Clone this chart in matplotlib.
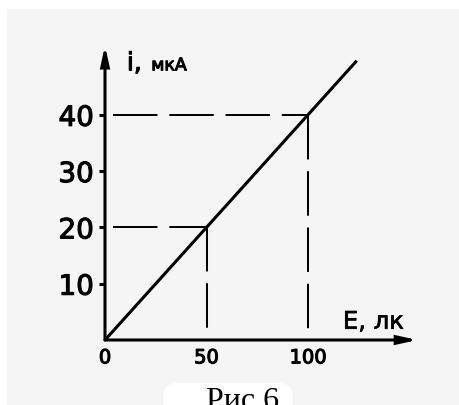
import matplotlib
matplotlib.use("Agg")
import matplotlib.pyplot as plt
import matplotlib.patheffects as pe
from matplotlib.patches import FancyBboxPatch

# Photocurrent vs. illuminance
E_line = [0, 124]          # illuminance, lx
i_line = [0, 49.6]         # photocurrent, uA
E_marks = [50, 100]        # reference points on the characteristic
i_marks = [20, 40]
y_ticks = [10, 20, 30, 40]
x_ticks = [0, 50, 100]
x_ticklabels = ["0", "50", "100"]
y_ticklabels = ["10", "20", "30", "40"]

W, H = 460, 405
fig = plt.figure(figsize=(W / 100, H / 100), dpi=100, facecolor="white")
plt.rcParams["font.family"] = "DejaVu Sans"

# slightly heavier glyph strokes for the labels
heavy = [pe.withStroke(linewidth=0.8, foreground="black")]

# grey panel area (pixels from the top-left corner)
left_px, top_px = 7, 9
ax = fig.add_axes([left_px / W, 0, 1 - left_px / W, 1 - top_px / H])
ax.set_facecolor("#f5f5f5")

x0_px, y0_px = 105, 340       # origin position
sx, sy = 2.03, 5.63           # pixels per unit
ax.set_xlim((left_px - x0_px) / sx, (W - x0_px) / sx)
ax.set_ylim((y0_px - H) / sy, (y0_px - top_px) / sy)

for s in ax.spines.values():
    s.set_visible(False)

lw_axis = 2.2
# axes with arrowheads
arrow_kw = dict(arrowstyle="-|>,head_length=1.1,head_width=0.24",
                lw=lw_axis, color="black", shrinkA=0, shrinkB=0,
                mutation_scale=10, joinstyle="miter")
ax.annotate("", xy=(154, 0), xytext=(0, 0), arrowprops=arrow_kw)
ax.annotate("", xy=(0, 52.3), xytext=(0, 0), arrowprops=arrow_kw)

# characteristic line
ax.plot(E_line, i_line, color="black", lw=2.2, solid_capstyle="butt")

# dashed projection lines
dash_lw = 1.45
on_pt, off_pt, lead_gap_pt = 32.0, 8.5, 5.8
h_style = ((on_pt + off_pt - lead_gap_pt) / dash_lw, (on_pt / dash_lw, off_pt / dash_lw))
v_style = (0, (on_pt / dash_lw, off_pt / dash_lw))
for ex, iy in zip(E_marks, i_marks):
    ax.plot([0, ex], [iy, iy], color="black", lw=dash_lw,
            linestyle=h_style, dash_capstyle="butt")
    ax.plot([ex, ex], [iy, 0], color="black", lw=dash_lw,
            linestyle=v_style, dash_capstyle="butt")

# ticks
ax.spines["left"].set_position(("data", 0))
ax.spines["bottom"].set_position(("data", 0))
ax.set_yticks(y_ticks)
ax.set_yticklabels(y_ticklabels, fontsize=20)
ax.set_xticks(x_ticks)
ax.set_xticklabels(x_ticklabels, fontsize=14)
for lbl in ax.get_yticklabels() + ax.get_xticklabels():
    lbl.set_path_effects(heavy)
ax.tick_params(axis="y", direction="out", length=4.5, width=lw_axis,
               pad=3.5, color="black")
ax.tick_params(axis="x", length=0, pad=6)

# axis titles
ax.text(10.8, 47.9, "i,", fontsize=18, va="baseline", ha="left",
        path_effects=heavy)
ax.text(22.8, 47.9, "мкА", fontsize=12.5, va="baseline", ha="left",
        path_effects=heavy)
ax.text(117.2, 2.0, "E, лк", fontsize=17.5, va="baseline", ha="left",
        path_effects=[pe.withStroke(linewidth=0.5, foreground="black")])

# caption with its white backing
fig.patches.append(FancyBboxPatch((163 / W, -0.05), 130 / W, (405 - 383) / H + 0.05,
                                  boxstyle="round,pad=0,rounding_size=0.035",
                                  transform=fig.transFigure, facecolor="white",
                                  edgecolor="none", zorder=5))
fig.text(243 / W, (H - 409) / H, "Рис 6", fontsize=23, family="Liberation Serif",
         ha="center", va="baseline", zorder=6)

fig.savefig("out.png", dpi=100, facecolor="white")
